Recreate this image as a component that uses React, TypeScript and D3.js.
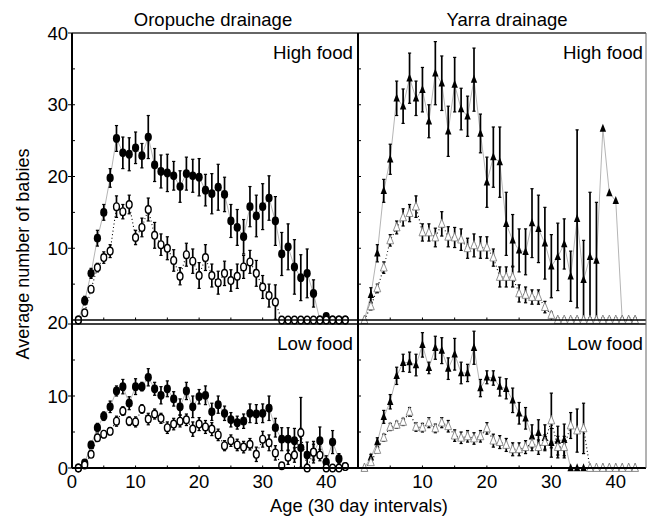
import * as d3 from "d3";

// ages 1..43 (30 day intervals)
const ages = d3.range(1, 44);

// Oropuche drainage, high food
const oroHighFilled = [0, 2.7, 6.5, 11.4, 15.0, 19.8, 25.3, 23.3, 23.1, 24.0, 22.9, 25.5, 21.6, 20.7, 20.5, 20.1, 18.6, 20.4, 20.1, 19.9, 18.1, 17.6, 18.5, 17.5, 13.8, 12.9, 11.6, 15.8, 14.5, 15.8, 17.0, 13.8, 9.2, 10.2, 7.4, 5.9, 6.5, 3.7, 0, 0.5, 0, 0, 0];
const oroHighFilledErr = [0, 0.6, 0.7, 1.1, 1.1, 1.3, 1.8, 2.2, 2.3, 2.2, 1.7, 3.0, 2.3, 2.3, 2.6, 2.0, 2.2, 2.3, 2.3, 2.6, 2.2, 2.8, 3.2, 2.4, 2.3, 2.5, 2.4, 2.8, 2.9, 3.2, 3.1, 3.4, 3.0, 3.2, 3.8, 3.2, 3.4, 1.9, 0, 0.3, 0, 0, 0];
const oroHighOpen = [0, 1.0, 4.3, 7.3, 8.7, 9.6, 15.8, 15.1, 16.1, 11.5, 12.9, 15.4, 11.8, 10.5, 10.0, 8.3, 6.1, 9.1, 8.2, 6.2, 8.7, 6.2, 5.2, 6.5, 5.5, 6.1, 7.4, 8.1, 6.5, 4.6, 3.4, 2.5, 0, 0, 0, 0, 0, 0, 0, 0, 0, 0, 0];
const oroHighOpenErr = [0, 0.3, 0.4, 0.6, 0.8, 0.9, 1.5, 1.0, 1.3, 1.0, 1.3, 1.6, 1.8, 1.5, 1.6, 1.5, 1.2, 1.6, 1.7, 1.8, 1.8, 1.6, 1.6, 1.7, 1.5, 1.7, 1.6, 1.6, 1.8, 1.6, 1.6, 2.4, 0, 0, 0, 0, 0, 0, 0, 0, 0, 0, 0];

// Yarra drainage, high food
const yarHighFilled = [0, 3.5, 9.3, 18.0, 22.4, 30.9, 29.8, 33.7, 30.9, 32.1, 27.7, 34.4, 33.0, 26.3, 32.8, 29.4, 28.4, 33.5, 26.0, 19.2, 22.7, 22.0, 13.4, 11.1, 9.7, 9.5, 13.5, 12.7, 10.7, 7.5, 8.8, 10.6, 6.1, 14.1, 5.6, 8.8, 8.3, 26.7, 17.7, 16.6, 0, 0, 0];
const yarHighFilledErr = [0, 1.0, 1.2, 1.6, 2.1, 2.4, 2.4, 3.5, 2.4, 3.1, 2.3, 4.4, 3.8, 3.5, 3.8, 2.9, 2.8, 4.4, 2.7, 3.5, 4.2, 4.9, 4.4, 3.6, 3.0, 3.2, 4.8, 4.7, 5.0, 4.4, 4.7, 3.5, 3.5, 12.4, 5.5, 9.0, 8.1, 0, 0, 0, 0, 0, 0];
const yarHighOpen = [0, 1.9, 4.4, 7.3, 11.1, 12.9, 14.3, 14.9, 15.8, 12.2, 12.2, 11.5, 13.4, 11.6, 11.5, 11.2, 10.0, 10.4, 10.1, 10.1, 8.7, 6.0, 6.0, 6.0, 3.7, 3.5, 3.2, 3.2, 1.8, 0.7, 0, 0, 0, 0, 0, 0, 0, 0, 0, 0, 0, 0, 0];
const yarHighOpenErr = [0, 0.5, 0.6, 0.8, 0.8, 0.9, 1.2, 1.2, 1.5, 1.2, 1.2, 1.3, 1.7, 1.4, 1.4, 1.5, 1.4, 1.6, 1.5, 1.5, 1.2, 1.4, 1.4, 1.4, 1.2, 1.1, 1.0, 1.0, 0.8, 0.4, 0.3, 0.3, 0.3, 0.3, 0.3, 0.3, 0.3, 0.3, 0.3, 0.3, 0.3, 0.3, 0.3];

// Oropuche drainage, low food
const oroLowFilled = [0, 0.7, 3.2, 5.6, 7.2, 8.5, 10.7, 11.3, 9.0, 11.3, 11.3, 12.6, 11.0, 10.1, 11.0, 9.6, 8.5, 10.7, 8.5, 9.9, 10.1, 7.8, 8.8, 7.6, 6.7, 6.3, 6.5, 7.6, 7.5, 7.6, 8.3, 5.6, 4.0, 4.0, 3.8, 2.8, 1.8, 2.2, 3.8, 0.8, 3.6, 1.3, 0.2];
const oroLowFilledErr = [0, 0.3, 0.5, 0.6, 0.6, 0.8, 0.7, 1.0, 0.9, 1.1, 0.6, 1.2, 0.9, 1.2, 1.1, 1.0, 1.1, 1.2, 1.5, 1.0, 1.3, 1.2, 1.2, 1.0, 1.0, 0.9, 1.0, 1.3, 1.3, 1.3, 1.7, 1.3, 1.6, 1.6, 1.7, 2.7, 1.8, 1.5, 1.9, 0.9, 1.6, 0.7, 0];
const oroLowOpen = [0, 0.4, 1.9, 4.2, 4.7, 5.1, 6.5, 7.9, 6.5, 6.4, 8.2, 6.8, 7.5, 6.9, 5.6, 6.1, 6.5, 6.7, 5.4, 6.1, 5.7, 5.4, 4.6, 3.1, 3.8, 3.2, 2.9, 3.3, 1.9, 4.0, 3.5, 2.1, 0.3, 1.5, 1.8, 4.9, 0, 2.2, 1.8, 0, 0, 0, 0.2];
const oroLowOpenErr = [0, 0.2, 0.4, 0.5, 0.5, 0.5, 0.7, 0.6, 0.6, 0.7, 0.6, 0.8, 0.7, 0.7, 0.8, 0.8, 0.8, 0.8, 1.0, 0.9, 0.9, 0.9, 0.8, 0.7, 0.8, 0.8, 0.8, 0.8, 1.0, 1.1, 1.1, 1.0, 0.3, 1.0, 1.0, 4.9, 0, 1.1, 0.8, 0, 0, 0, 0];

// Yarra drainage, low food
const yarLowFilled = [0, 1.5, 3.6, 7.1, 9.2, 12.8, 14.6, 14.7, 14.3, 17.1, 13.9, 16.7, 16.3, 13.8, 15.8, 13.2, 13.2, 16.7, 11.1, 12.6, 12.5, 11.3, 11.0, 9.4, 7.6, 6.9, 4.4, 4.9, 4.2, 3.5, 3.8, 3.9, 0, 0, 0, 0, 0, 0, 0, 0, 0, 0, 0];
const yarLowFilledErr = [0, 0.4, 0.6, 0.9, 1.0, 1.2, 1.2, 1.4, 1.5, 1.7, 0.8, 1.6, 1.8, 1.5, 2.2, 1.5, 1.2, 2.3, 1.2, 0.9, 1.0, 1.3, 1.4, 1.7, 1.5, 1.5, 1.6, 1.8, 1.8, 2.0, 2.0, 2.2, 0, 0, 0, 0, 0, 0, 0, 0, 0, 0, 0];
const yarLowOpen = [0, 0.8, 2.5, 4.2, 5.7, 6.0, 6.4, 7.8, 5.7, 5.6, 6.3, 5.5, 6.3, 5.8, 4.5, 4.2, 4.4, 4.1, 4.4, 5.5, 3.8, 3.6, 3.2, 2.6, 2.6, 2.9, 3.4, 2.9, 3.6, 6.6, 2.9, 2.9, 5.9, 5.2, 5.5, 0, 0, 0, 0, 0, 0, 0, 0];
const yarLowOpenErr = [0, 0.3, 0.4, 0.5, 0.5, 0.5, 0.5, 0.6, 0.6, 0.6, 0.7, 0.6, 0.7, 0.8, 0.8, 0.8, 0.8, 0.8, 0.8, 0.8, 0.9, 0.9, 0.9, 0.9, 0.9, 0.9, 1.0, 1.0, 1.0, 3.8, 1.5, 1.5, 1.8, 3.0, 3.5, 0, 0, 0, 0, 0, 0, 0, 0];

const columnTitles = ["Oropuche drainage", "Yarra drainage"];
const rowLabels = ["High food", "Low food"];
const topTicks = [10, 20, 30, 40];
const bottomTicks = [0, 10, 20];
const xTicksLeft = [0, 10, 20, 30, 40];
const xTicksRight = [10, 20, 30, 40];

const W = 647, H = 517;
const FONT = "'Liberation Sans', Arial, Helvetica, sans-serif";

const xLeft = d3.scaleLinear().domain([0, 45]).range([72, 358]);
const xRight = d3.scaleLinear().domain([0, 45]).range([358, 648]);
const yTop = d3.scaleLinear().domain([0, 40]).range([320, 33]);
const yBottom = d3.scaleLinear().domain([0, 20]).range([468, 324]);

type Series = { values: number[]; errors: number[]; shape: "circle" | "triangle"; filled: boolean };
type Panel = { x: any; y: any; series: Series[]; label: string; max: number };

const panels: Panel[] = [
  { x: xLeft, y: yTop, label: rowLabels[0], max: 40, series: [
    { values: oroHighFilled, errors: oroHighFilledErr, shape: "circle", filled: true },
    { values: oroHighOpen, errors: oroHighOpenErr, shape: "circle", filled: false },
  ] },
  { x: xRight, y: yTop, label: rowLabels[0], max: 40, series: [
    { values: yarHighFilled, errors: yarHighFilledErr, shape: "triangle", filled: true },
    { values: yarHighOpen, errors: yarHighOpenErr, shape: "triangle", filled: false },
  ] },
  { x: xLeft, y: yBottom, label: rowLabels[1], max: 20, series: [
    { values: oroLowFilled, errors: oroLowFilledErr, shape: "circle", filled: true },
    { values: oroLowOpen, errors: oroLowOpenErr, shape: "circle", filled: false },
  ] },
  { x: xRight, y: yBottom, label: rowLabels[1], max: 20, series: [
    { values: yarLowFilled, errors: yarLowFilledErr, shape: "triangle", filled: true },
    { values: yarLowOpen, errors: yarLowOpenErr, shape: "triangle", filled: false },
  ] },
];

const Marker = ({ cx, cy, s }: { cx: number; cy: number; s: Series }) => {
  if (s.shape === "circle") {
    return s.filled
      ? <ellipse cx={cx} cy={cy} rx={3.6} ry={4.4} fill="#000" />
      : <ellipse cx={cx} cy={cy} rx={2.9} ry={3.8} fill="#fff" stroke="#000" strokeWidth={1.4} />;
  }
  return s.filled
    ? <path d={`M${cx},${cy - 4.8}L${cx + 3.2},${cy + 3.2}L${cx - 3.2},${cy + 3.2}Z`} fill="#000" />
    : <path d={`M${cx},${cy - 5}L${cx + 3.4},${cy + 3.4}L${cx - 3.4},${cy + 3.4}Z`} fill="#fff" stroke="#777" strokeWidth={0.8} />;
};

const PanelMarks = ({ p }: { p: Panel }) => {
  const [x0, x1] = p.x.range();
  const [yb, yt] = p.y.range();
  return (
    <g>
      {/* minor ticks along left and bottom edges */}
      {d3.range(5, p.max, 5).map(t => (
        <line key={"yt" + t} x1={x0} x2={x0 + 3} y1={p.y(t)} y2={p.y(t)} stroke="#000" strokeWidth={1} />
      ))}
      {d3.range(5, 45, 5).map(t => (
        <line key={"xt" + t} x1={p.x(t)} x2={p.x(t)} y1={yb} y2={yb - 2.5} stroke="#000" strokeWidth={1} />
      ))}
      {p.series.map((s, si) => {
        const line = d3.line<number>().x((_, i) => p.x(ages[i])).y(v => p.y(v));
        return (
          <path key={"l" + si} d={line(s.values) || ""} fill="none"
            stroke={s.filled ? "#b5b5b5" : "#000"} strokeWidth={s.filled ? 1 : 1.1}
            strokeDasharray={s.filled ? undefined : "1,2.6"} />
        );
      })}
      {p.series.map((s, si) => (
        <g key={"s" + si}>
          {s.values.map((v, i) => {
            const e = s.errors[i];
            if (!e) return null;
            const cx = p.x(ages[i]);
            const lo = p.y(Math.max(0, v - e)), hi = p.y(Math.min(p.max, v + e));
            return (
              <g key={i} stroke="#000">
                <line x1={cx} x2={cx} y1={lo} y2={hi} strokeWidth={1.7} />
                <line x1={cx - 1.6} x2={cx + 1.6} y1={hi} y2={hi} strokeWidth={1.2} />
                <line x1={cx - 1.6} x2={cx + 1.6} y1={lo} y2={lo} strokeWidth={1.2} />
              </g>
            );
          })}
          {s.values.map((v, i) => <Marker key={"m" + i} cx={p.x(ages[i])} cy={p.y(v)} s={s} />)}
        </g>
      ))}
      <text x={x1 - 5} y={yt + 26} textAnchor="end" fontSize={18.7}>{p.label}</text>
    </g>
  );
};

export default function App() {
  const [lx0, lx1] = xLeft.range();
  const rx1 = 646;
  return (
    <svg width={W} height={H} style={{ position: "absolute", left: 0, top: 0, background: "#fff" }}
      fontFamily={FONT} fill="#000">
      <rect x={0} y={0} width={W} height={H} fill="#fff" />
      {panels.map((p, i) => <PanelMarks key={i} p={p} />)}

      {/* frames */}
      <line x1={lx0} x2={rx1} y1={yTop(40)} y2={yTop(40)} stroke="#333" strokeWidth={1.5} />
      <line x1={lx0} x2={rx1} y1={yTop(0)} y2={yTop(0)} stroke="#000" strokeWidth={1.5} />
      <line x1={lx0} x2={rx1} y1={yBottom(20)} y2={yBottom(20)} stroke="#000" strokeWidth={1.5} />
      <line x1={lx0} x2={rx1} y1={yBottom(0)} y2={yBottom(0)} stroke="#000" strokeWidth={2} />
      <line x1={lx0} x2={lx0} y1={yTop(40)} y2={yBottom(0)} stroke="#000" strokeWidth={2} />
      <line x1={lx1} x2={lx1} y1={yTop(40)} y2={yBottom(0)} stroke="#000" strokeWidth={2} />
      <line x1={rx1} x2={rx1} y1={yTop(40)} y2={yBottom(0)} stroke="#666" strokeWidth={1} />

      {/* y tick labels */}
      {topTicks.map(t => (
        <g key={"tt" + t}>
          <line x1={lx0 - 4} x2={lx0} y1={yTop(t)} y2={yTop(t)} stroke="#000" strokeWidth={1} />
          <text x={lx0 - 4} y={yTop(t)} dy="0.36em" textAnchor="end" fontSize={18.5}>{t}</text>
        </g>
      ))}
      {bottomTicks.map(t => (
        <g key={"bt" + t}>
          <line x1={lx0 - 4} x2={lx0} y1={yBottom(t)} y2={yBottom(t)} stroke="#000" strokeWidth={1} />
          <text x={lx0 - 4} y={t === 20 ? 322 : yBottom(t)} dy="0.36em" textAnchor="end" fontSize={18.5}>{t}</text>
        </g>
      ))}

      {/* x tick labels */}
      {xTicksLeft.map(t => (
        <text key={"xl" + t} x={xLeft(t)} y={488} textAnchor="middle" fontSize={18.5}>{t}</text>
      ))}
      {xTicksRight.map(t => (
        <text key={"xr" + t} x={xRight(t)} y={488} textAnchor="middle" fontSize={18.5}>{t}</text>
      ))}

      {/* titles */}
      <text x={213} y={26} textAnchor="middle" fontSize={18.5}>{columnTitles[0]}</text>
      <text x={507} y={26} textAnchor="middle" fontSize={18.5}>{columnTitles[1]}</text>
      <text x={359} y={512} textAnchor="middle" fontSize={18.3}>Age (30 day intervals)</text>
      <text transform="translate(29,254) rotate(-90)" textAnchor="middle" fontSize={18}>Average number of babies</text>
    </svg>
  );
}
